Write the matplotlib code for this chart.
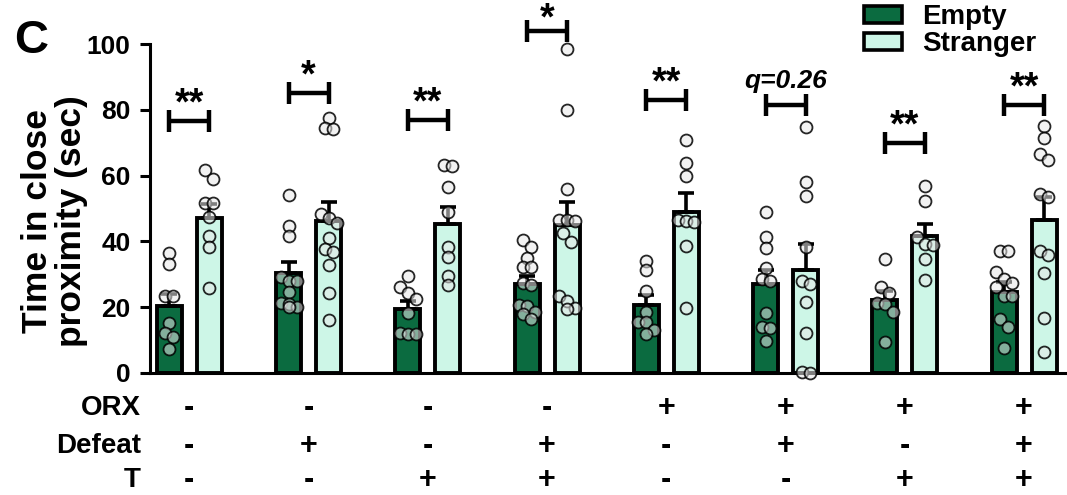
import numpy as np
import matplotlib.pyplot as plt
import matplotlib.transforms as mtransforms
from matplotlib.patches import Patch

plt.rcParams['font.family'] = ['Liberation Sans', 'DejaVu Sans']
plt.rcParams['font.weight'] = 'bold'

groups = np.arange(1, 9)

# individual animals, seconds in close proximity
empty_vals = [
    [36.6, 33.0, 23.5, 23.5, 15.3, 12.2, 11.0, 7.3],
    [54.1, 44.7, 41.7, 29.3, 28.0, 28.0, 24.7, 21.2, 21.0, 20.2, 20.2],
    [29.5, 26.0, 24.2, 22.5, 18.1, 12.2, 11.8, 11.8],
    [40.4, 38.4, 34.9, 32.1, 32.1, 27.3, 26.7, 20.7, 20.4, 18.4, 17.8, 16.3],
    [34.1, 31.3, 25.0, 18.6, 15.6, 15.6, 13.1, 11.8],
    [48.8, 41.2, 37.9, 31.8, 28.5, 28.0, 18.3, 13.9, 13.6, 9.7],
    [34.6, 26.2, 24.2, 21.2, 20.9, 18.6, 9.3],
    [37.2, 37.2, 30.8, 28.6, 27.3, 26.2, 23.5, 23.5, 16.3, 14.1, 7.5],
]
stranger_vals = [
    [61.7, 59.0, 51.6, 51.6, 47.5, 41.7, 38.4, 25.9],
    [77.4, 74.4, 74.1, 48.2, 47.0, 45.7, 41.1, 37.6, 36.9, 32.8, 24.2, 16.1],
    [63.2, 63.0, 56.6, 49.0, 38.2, 35.3, 29.6, 26.7],
    [98.5, 79.9, 55.9, 46.5, 46.5, 46.3, 42.6, 39.9, 23.5, 22.0, 19.7, 19.4],
    [70.8, 63.7, 59.9, 46.5, 46.2, 46.0, 38.6, 19.7],
    [74.7, 58.0, 53.9, 38.4, 28.0, 27.0, 21.5, 12.2, 0.4, 0.0],
    [56.9, 52.3, 41.4, 39.2, 38.9, 34.7, 28.3],
    [75.2, 71.5, 66.6, 64.7, 54.3, 53.4, 37.2, 35.9, 30.3, 16.6, 6.5],
]

orx = ['-', '-', '-', '-', '+', '+', '+', '+']
defeat = ['-', '+', '-', '+', '-', '+', '-', '+']
t_treat = ['-', '-', '+', '+', '-', '-', '+', '+']

sig_levels = [76.5, 85.0, 77.0, 104.0, 83.0, 81.5, 69.8, 81.5]
sig_labels = ['**', '*', '**', '*', '**', 'q=0.26', '**', '**']

c_empty = '#0b6b40'
c_str = '#cdf6e7'

W, H = 1067, 495
fig = plt.figure(figsize=(W / 100, H / 100), dpi=100)
ax_l, ax_b, ax_w, ax_h = 150 / W, 1 - 373 / H, 1 - 150 / W, 329 / H
ax = fig.add_axes([ax_l, ax_b, ax_w, ax_h])

xlim = (0.67, 8.36)
ylim = (0, 100)
ax.set_xlim(*xlim)
ax.set_ylim(*ylim)

px_x = ax_w * W / (xlim[1] - xlim[0])
px_y = ax_h * H / (ylim[1] - ylim[0])

off = 0.1675
bw = 0.21


def swarm(vals, xc, step=8.0, thr=9.0, maxn=3):
    vals = sorted(vals, reverse=True)
    clusters = [[vals[0]]]
    for v in vals[1:]:
        if (clusters[-1][-1] - v) * px_y < thr and len(clusters[-1]) < maxn:
            clusters[-1].append(v)
        else:
            clusters.append([v])
    xs, ys = [], []
    for cl in clusters:
        n = len(cl)
        for i, v in enumerate(cl):
            xs.append(xc + (i - (n - 1) / 2) * step / px_x)
            ys.append(v)
    return xs, ys


for vals, xpos, col in [(empty_vals, groups - off, c_empty), (stranger_vals, groups + off, c_str)]:
    means = [np.mean(v) for v in vals]
    sems = [np.std(v, ddof=1) / np.sqrt(len(v)) for v in vals]
    ax.bar(xpos, means, width=bw, color=col, edgecolor='black', linewidth=2.8, zorder=2)
    ax.errorbar(xpos, means, yerr=[np.zeros(8), sems], fmt='none', ecolor='black',
                elinewidth=2.6, capsize=5.5, capthick=2.6, zorder=3)
    for v, xc in zip(vals, xpos):
        xs, ys = swarm(v, xc)
        ax.plot(xs, ys, 'o', ms=8.6, mfc=(0.91, 0.91, 0.91, 0.55), mec=(0, 0, 0, 0.85),
                mew=1.3, zorder=4, clip_on=False)

# significance brackets
tick_h = 11 / px_y
sig_texts = []
for g, lev, lab in zip(groups, sig_levels, sig_labels):
    x1, x2 = g - off, g + off
    ax.plot([x1, x2], [lev, lev], color='black', lw=3.2, solid_capstyle='butt', clip_on=False, zorder=5)
    ax.plot([x1, x1], [lev - tick_h, lev + tick_h], color='black', lw=3.2, solid_capstyle='butt', clip_on=False, zorder=5)
    ax.plot([x2, x2], [lev - tick_h, lev + tick_h], color='black', lw=3.2, solid_capstyle='butt', clip_on=False, zorder=5)
    if lab.startswith('q'):
        t = ax.text(g, lev + 5.2, lab, ha='center', va='baseline', fontsize=19, style='italic', clip_on=False)
    else:
        t = ax.text(g, lev + 2.0, lab, ha='center', va='baseline', fontsize=27, clip_on=False)
    sig_texts.append(t)

ax.spines['top'].set_visible(False)
ax.spines['right'].set_visible(False)
ax.spines['left'].set_linewidth(2.2)
ax.spines['bottom'].set_linewidth(2.2)
ax.set_xticks([])
ax.set_yticks([0, 20, 40, 60, 80, 100])
ax.tick_params(axis='y', direction='out', length=7, width=2.2, labelsize=19, pad=7)
for t in ax.get_yticklabels():
    t.set_fontweight('bold')

fig.text(0.051, 0.553, 'Time in close\nproximity (sec)', rotation=90, ha='center', va='center',
         fontsize=25.5, multialignment='center', linespacing=1.05)
fig.text(14 / W, 1 - 53 / H, 'C', fontsize=34, va='baseline', ha='left')

# condition table below the axis
row_y = [1 - 408 / H, 1 - 446 / H, 1 - 480 / H]
for name, signs, ry in zip(['ORX', 'Defeat', 'T'], [orx, defeat, t_treat], row_y):
    fig.text(141 / W, ry, name, ha='right', va='center', fontsize=20)
    for g, s in zip(groups, signs):
        fig.text((ax_l * W + (g - xlim[0]) * px_x) / W, ry, s, ha='center', va='center', fontsize=22)

handles = [Patch(facecolor=c_empty, edgecolor='black', linewidth=2.6, label='Empty'),
           Patch(facecolor=c_str, edgecolor='black', linewidth=2.6, label='Stranger')]
fig.legend(handles=handles, loc='upper left', bbox_to_anchor=(864 / W, 1 - 4 / H), frameon=False,
           prop={'size': 20, 'weight': 'bold'}, handlelength=1.35, handleheight=0.55,
           labelspacing=0.05, handletextpad=0.75, borderaxespad=0, borderpad=0)

# keep annotation text boxes inside the figure
fig.canvas.draw()
renderer = fig.canvas.get_renderer()
for t in sig_texts:
    bb = t.get_window_extent(renderer)
    if bb.y1 > H - 1:
        shift = (bb.y1 - H + 1) / 100
        t.set_transform(t.get_transform() + mtransforms.ScaledTranslation(0, -shift, fig.dpi_scale_trans))

fig.savefig('out.png', dpi=100)
